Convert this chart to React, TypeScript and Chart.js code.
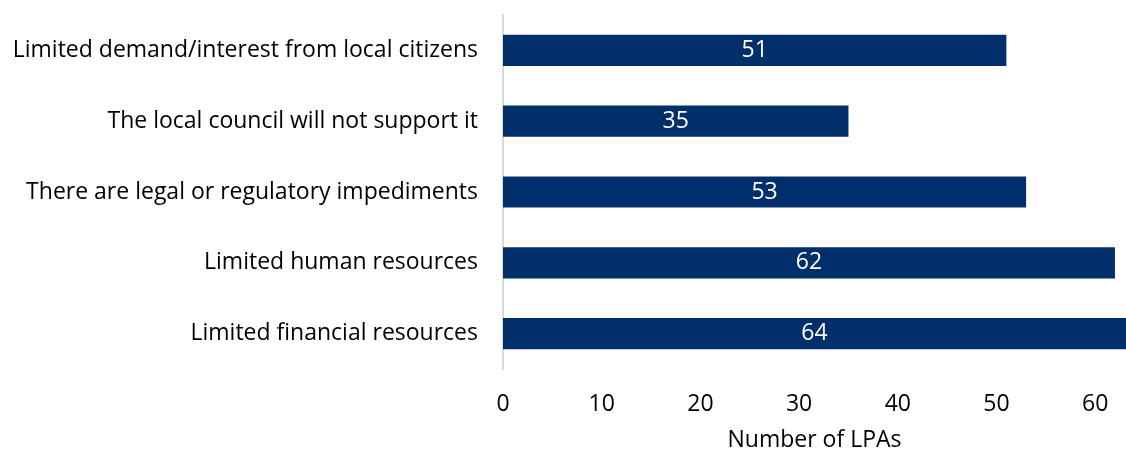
import React, { useEffect, useRef } from "react";
import { Chart, registerables } from "chart.js";

Chart.register(...registerables);

const categories = [
  "Limited demand/interest from local citizens",
  "The local council will not support it",
  "There are legal or regulatory impediments",
  "Limited human resources",
  "Limited financial resources",
];
const values = [51, 35, 53, 62, 64];
const xTicks = [0, 10, 20, 30, 40, 50, 60];
const xTitle = "Number of LPAs";

const FONT = "'Open Sans', Lato, sans-serif";
const SIZE = 23;

const labelPlugin = {
  id: "barLabels",
  afterDatasetsDraw(chart: any) {
    const { ctx, chartArea } = chart;
    const meta = chart.getDatasetMeta(0);
    ctx.save();
    ctx.fillStyle = "#ffffff";
    ctx.font = `${SIZE}px ${FONT}`;
    ctx.textAlign = "center";
    ctx.textBaseline = "middle";
    meta.data.forEach((bar: any, i: number) => {
      const end = Math.min(bar.x, chartArea.right);
      const cx = (bar.base + end) / 2;
      ctx.fillText(String(values[i]), cx, bar.y);
    });
    ctx.restore();
  },
};

export default function App() {
  const ref = useRef<HTMLCanvasElement>(null);
  useEffect(() => {
    document.body.style.margin = "0";
    const chart = new Chart(ref.current!, {
      type: "bar",
      data: {
        labels: categories,
        datasets: [
          {
            data: values,
            backgroundColor: "#002f6c",
            borderWidth: 0,
            barPercentage: 0.44,
            categoryPercentage: 1,
          },
        ],
      },
      options: {
        indexAxis: "y",
        animation: false,
        responsive: false,
        maintainAspectRatio: false,
        layout: { padding: { top: 15, right: 0, bottom: 0, left: 0 } },
        plugins: { legend: { display: false }, tooltip: { enabled: false } },
        scales: {
          x: {
            min: 0,
            max: 63.12,
            afterBuildTicks: (s: any) => {
              s.ticks = xTicks.map((v) => ({ value: v }));
            },
            afterFit: (s: any) => {
              s.height = 81;
              s.paddingLeft = 0;
              s.paddingRight = 0;
            },
            grid: { display: false, drawTicks: false },
            border: { display: false },
            ticks: { color: "#000", font: { family: FONT, size: SIZE }, padding: 22 },
            title: {
              display: true,
              text: xTitle,
              color: "#000",
              font: { family: FONT, size: SIZE, lineHeight: 1 },
              padding: { top: 0, bottom: -2 },
            },
          },
          y: {
            afterFit: (s: any) => {
              s.width = 503;
              s.paddingTop = 0;
              s.paddingBottom = 0;
            },
            grid: { display: false, drawTicks: false },
            border: { display: true, color: "#d9d9d9", width: 2 },
            ticks: { color: "#000", font: { family: FONT, size: SIZE }, padding: 25 },
          },
        },
      },
      plugins: [labelPlugin],
    });
    return () => chart.destroy();
  }, []);
  return <canvas ref={ref} width={1126} height={450} style={{ display: "block" }} />;
}
